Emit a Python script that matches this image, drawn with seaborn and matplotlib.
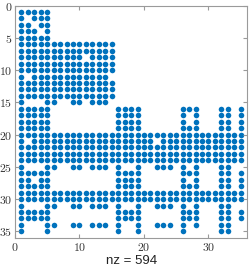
import numpy as np
import pandas as pd
import seaborn as sns
import matplotlib.pyplot as plt

# sparsity pattern, one string per row (1 = nonzero), 35 columns
# column blocks: 1-5 | 6-15 | 16-19 | 20-25 | 26-28 | 29-31 | 32-35
rows_top = [
    "11111" + "0" * 30,
    "10111" + "0" * 30,
    "11011" + "0" * 30,
    "11101" + "0" * 30,
    "11111" + "0" * 30,
    "11111" + "1111111111" + "0" * 20,
    "11111" + "1111111111" + "0" * 20,
    "11111" + "1111101111" + "0" * 20,
    "11111" + "1111111111" + "0" * 20,
    "11111" + "1111111111" + "0" * 20,
    "10111" + "1111111110" + "0" * 20,
    "11111" + "1111111111" + "0" * 20,
    "11111" + "1111111111" + "0" * 20,
    "11111" + "1111111111" + "0" * 20,
    "10001" + "1001101110" + "0" * 20,
]
rows_mid = [
    "11111" + "0" * 10 + "1111" + "000000" + "111" + "000" + "1101",
    "11111" + "0" * 10 + "1111" + "000000" + "101" + "000" + "1101",
    "11111" + "0" * 10 + "1111" + "000000" + "101" + "000" + "1101",
    "11111" + "0" * 10 + "1111" + "000000" + "111" + "000" + "1101",
    "1" * 35,
    "10111" + "1" * 10 + "1111" + "110111" + "111" + "111" + "1111",
    "1" * 35,
    "1" * 35,
    "1" * 35,
    "10001" + "1001101110" + "1001" + "001110" + "101" + "000" + "1100",
]
rows_bot = [
    "11111" + "0" * 10 + "1111" + "000000" + "111" + "000" + "1101",
    "11011" + "0" * 10 + "1111" + "000000" + "101" + "000" + "1101",
    "11111" + "0" * 10 + "1111" + "000000" + "111" + "000" + "1101",
    "1" * 35,
    "1" * 35,
    "10001" + "1001101110" + "1001" + "001110" + "101" + "000" + "1100",
    "11111" + "0" * 10 + "1111" + "000000" + "111" + "000" + "1101",
    "11111" + "0" * 10 + "1111" + "000000" + "111" + "000" + "1101",
    "10001" + "1001101110" + "1001" + "001110" + "101" + "000" + "1100",
    "10001" + "0" * 10 + "1001" + "000000" + "100" + "000" + "1100",
]

pattern = rows_top + rows_mid + rows_bot
M = np.array([[int(ch) for ch in r] for r in pattern])
n = M.shape[0]
r_idx, c_idx = np.nonzero(M)
df = pd.DataFrame({"col": c_idx + 1, "row": r_idx + 1})
print(len(df))

plt.rcParams["mathtext.fontset"] = "cm"
fig = plt.figure(figsize=(2.49, 2.71), dpi=100)
ax = fig.add_axes([0.0602, 0.1225, 0.9325, 0.857])

sns.scatterplot(data=df, x="col", y="row", ax=ax, color="#0072BD",
                s=16, linewidth=0, legend=False)

ax.set_xlim(0, n + 1)
ax.set_ylim(n + 1, 0)
ax.set_xticks([0, 10, 20, 30])
ax.set_yticks(range(0, n + 1, 5))
ax.set_xticklabels(["$%d$" % v for v in [0, 10, 20, 30]])
ax.set_yticklabels(["$%d$" % v for v in range(0, n + 1, 5)])
ax.tick_params(direction="in", top=True, right=True, length=3,
               labelsize=8.5, colors="#9a9a9a", labelcolor="#333333", pad=2)
for sp in ax.spines.values():
    sp.set_color("#9a9a9a")
    sp.set_linewidth(0.8)
ax.set_ylabel("")
ax.set_xlabel("nz = %d" % len(df), fontsize=9.5, color="#222222",
              family="Liberation Sans", labelpad=1)

fig.savefig("out.png", dpi=100)
